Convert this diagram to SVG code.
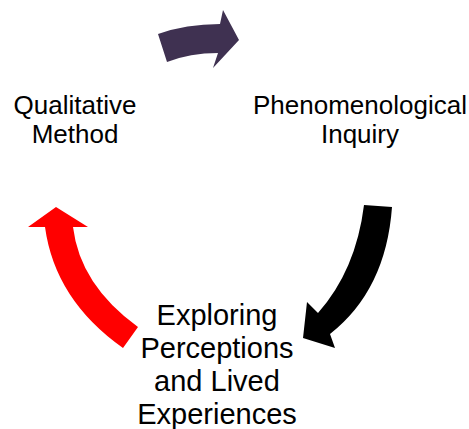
<svg xmlns="http://www.w3.org/2000/svg" width="469" height="429" viewBox="0 0 469 429">
  <style>
    .label { font-family: "Liberation Sans", Arial, sans-serif; font-size: 26px; fill: #000; text-anchor: middle; }
    .label-lg { font-size: 29px; }
  </style>
  <rect width="469" height="429" fill="#fff"/>
  <g id="connectors">
    <!-- Qualitative Method -> Phenomenological Inquiry -->
    <path id="arrow-top" fill="#3f3151" d="M158,34 Q186,24 220,24 L223,10 L239,40 L213,68 L218,53 Q190,53 167,62 Z"/>
    <!-- Phenomenological Inquiry -> Exploring Perceptions -->
    <path id="arrow-right" fill="#000" d="M364,205 L392,207 Q386,290 330,334 L335,348 L303,338 L307,302 L318,313 Q356,270 364,205 Z"/>
    <!-- Exploring Perceptions -> Qualitative Method -->
    <path id="arrow-left" fill="#ff0000" d="M56,207 L88,227 L73,227 Q80,285 138,327 L123,348 Q55,300 45,227 L28,227 Z"/>
  </g>
  <g id="node-qualitative">
    <text class="label" x="75" y="114">Qualitative</text>
    <text class="label" x="75" y="143">Method</text>
  </g>
  <g id="node-phenomenological">
    <text class="label" x="360" y="114">Phenomenological</text>
    <text class="label" x="360" y="143">Inquiry</text>
  </g>
  <g id="node-exploring">
    <text class="label label-lg" x="217" y="325">Exploring</text>
    <text class="label label-lg" x="217" y="358">Perceptions</text>
    <text class="label label-lg" x="217" y="391">and Lived</text>
    <text class="label label-lg" x="217" y="424">Experiences</text>
  </g>
</svg>
